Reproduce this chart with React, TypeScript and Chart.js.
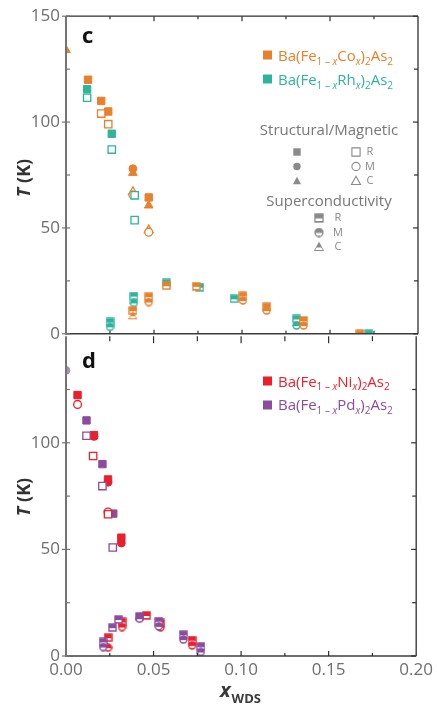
import React, { useEffect, useRef } from "react";
import { Chart, registerables } from "chart.js";

Chart.register(...registerables);

type Pt = [number, number];

// shared axes
const X_MIN = 0;
const X_MAX = 0.2;
const X_STEP = 0.05;
const T_MIN = 0;
const T_MAX = 150;
const T_STEP = 50;

// ---- panel c : Co and Rh substitution (x, T in K) ----
const coStructR: Pt[] = [[0.0125, 120], [0.02, 110], [0.024, 105], [0.047, 64.4]];
const coStructM: Pt[] = [[0.038, 78]];
const coStructC: Pt[] = [[0, 134], [0.038, 76], [0.047, 60.6]];
const coMagR: Pt[] = [[0.02, 104], [0.024, 99]];
const coMagM: Pt[] = [[0.038, 65.6], [0.047, 48]];
const coMagC: Pt[] = [[0.038, 67], [0.047, 49]];
const coScR: Pt[] = [[0.038, 11], [0.047, 17.5], [0.057, 22.7], [0.074, 22.4], [0.1005, 17.9], [0.114, 12.7], [0.135, 6.3], [0.167, 0]];
const coScM: Pt[] = [[0.047, 15], [0.1005, 15.7], [0.114, 11], [0.135, 3.9]];
const coScC: Pt[] = [[0.038, 8.5]];

const rhStructR: Pt[] = [[0.012, 115.5], [0.026, 94.5]];
const rhMagR: Pt[] = [[0.012, 111.5], [0.026, 87], [0.039, 65.4], [0.039, 53.7]];
const rhScR: Pt[] = [[0.025, 5.6], [0.0386, 17.8], [0.057, 24], [0.076, 22], [0.0955, 16.5], [0.131, 7], [0.172, 0]];
const rhScM: Pt[] = [[0.025, 3.3], [0.0386, 14.6], [0.131, 3.9]];

// ---- panel d : Ni and Pd substitution ----
const niStructR: Pt[] = [[0.0066, 122.4], [0.016, 103.6], [0.024, 82.8], [0.0316, 55.5]];
const niStructM: Pt[] = [[0.016, 103], [0.024, 81.5], [0.0316, 53]];
const niMagR: Pt[] = [[0.0155, 93.8], [0.024, 66.5]];
const niMagM: Pt[] = [[0.0066, 118], [0.024, 67.5]];
const niScR: Pt[] = [[0.024, 8.6], [0.032, 16], [0.046, 19], [0.054, 15.5], [0.072, 7.4]];
const niScM: Pt[] = [[0.024, 3.9], [0.032, 13.6], [0.054, 13.5], [0.072, 5]];

const pdParent: Pt[] = [[0, 134]];
const pdStructR: Pt[] = [[0.0117, 110.5], [0.0208, 90], [0.027, 66.8]];
const pdMagR: Pt[] = [[0.0117, 103.3], [0.0208, 79.7], [0.0267, 50.9]];
const pdScR: Pt[] = [[0.0212, 6.6], [0.0265, 13.3], [0.03, 17.1], [0.042, 18.6], [0.053, 16.3], [0.067, 10], [0.077, 4.5]];
const pdScM: Pt[] = [[0.0212, 4.2], [0.042, 17.5], [0.053, 13.9], [0.067, 7.7], [0.077, 1.9]];

const ORANGE = "#e8802c";
const TEAL = "#2db59a";
const RED = "#ec1f2b";
const PURPLE = "#8c4b9e";
const PARENT = "#a88fae";
const KEY_GREY = "#8a8a8a";
const TEXT_GREY = "#6e6e6e";
const FONT = '"Open Sans", "Liberation Sans", sans-serif';

type Shape = "rect" | "circle" | "triangle";
type Kind = "structR" | "structM" | "structC" | "magR" | "magM" | "magC" | "scR" | "scM" | "scC";

function shapePath(g: CanvasRenderingContext2D, shape: Shape, cx: number, cy: number, r: number) {
  g.beginPath();
  if (shape === "rect") g.rect(cx - r, cy - r, 2 * r, 2 * r);
  else if (shape === "circle") g.arc(cx, cy, r, 0, Math.PI * 2);
  else {
    g.moveTo(cx, cy - r * 1.15);
    g.lineTo(cx + r * 1.1, cy + r * 0.85);
    g.lineTo(cx - r * 1.1, cy + r * 0.85);
    g.closePath();
  }
}

// half-filled superconducting marker: solid top, white band in the lower part
function scMarker(shape: Shape, color: string, size = 9): HTMLCanvasElement {
  const c = document.createElement("canvas");
  c.width = size;
  c.height = size;
  const g = c.getContext("2d")!;
  const m = size / 2;
  g.fillStyle = color;
  shapePath(g, shape, m, m, m - 0.3);
  g.fill();
  g.save();
  g.beginPath();
  g.rect(0, size * 0.55, size, size * 0.25);
  g.clip();
  g.fillStyle = "#fff";
  shapePath(g, shape, m, m, m - 1.6);
  g.fill();
  g.restore();
  return c;
}

function series(points: Pt[], kind: Kind, color: string) {
  const base = {
    data: points.map(([x, y]) => ({ x, y })),
    showLine: false,
    clip: 0,
  };
  const shape: Shape = kind.endsWith("R") ? "rect" : kind.endsWith("M") ? "circle" : "triangle";
  if (kind.startsWith("sc")) {
    return { ...base, pointStyle: scMarker(shape, color), pointRadius: 4.5 };
  }
  const filled = kind.startsWith("struct");
  const radius = shape === "rect" ? 5.2 : shape === "circle" ? 3.9 : 5;
  return {
    ...base,
    pointStyle: shape,
    pointRadius: radius,
    pointBackgroundColor: filled ? color : "#fff",
    pointBorderColor: color,
    pointBorderWidth: filled ? 1 : 1.3,
  };
}

type Run = [string, boolean, boolean];
const formula = (dopant: string): Run[] => [
  ["Ba(Fe", false, false],
  ["1 – ", true, false],
  ["x", true, true],
  [dopant, false, false],
  ["x", true, true],
  [")", false, false],
  ["2", true, false],
  ["As", false, false],
  ["2", true, false],
];

function drawRuns(ctx: CanvasRenderingContext2D, x: number, baseline: number, runs: Run[], color: string) {
  ctx.fillStyle = color;
  ctx.textAlign = "left";
  ctx.textBaseline = "alphabetic";
  let cx = x;
  for (const [text, sub, italic] of runs) {
    ctx.font = `${italic ? "italic " : ""}${sub ? 10 : 15}px ${FONT}`;
    ctx.fillText(text, cx, baseline + (sub ? 3.5 : 0));
    cx += ctx.measureText(text).width;
  }
}

function legendEntry(ctx: CanvasRenderingContext2D, y: number, baseline: number, color: string, dopant: string) {
  ctx.fillStyle = color;
  ctx.fillRect(263, y - 4.5, 9, 9);
  drawRuns(ctx, 278, baseline, formula(dopant), color);
}

function keySymbol(ctx: CanvasRenderingContext2D, shape: Shape, filled: boolean, x: number, y: number) {
  ctx.save();
  ctx.fillStyle = filled ? KEY_GREY : "#fff";
  ctx.strokeStyle = KEY_GREY;
  ctx.lineWidth = 1.1;
  shapePath(ctx, shape, x, y, filled ? 3.7 : 4.1);
  ctx.fill();
  if (!filled) ctx.stroke();
  ctx.restore();
}

function line(ctx: CanvasRenderingContext2D, x1: number, y1: number, x2: number, y2: number) {
  ctx.beginPath();
  ctx.moveTo(x1, y1);
  ctx.lineTo(x2, y2);
  ctx.stroke();
}

function framePlugin(panel: "c" | "d") {
  const upper = panel === "c";
  return {
    id: "frame-" + panel,
    afterDraw(chart: any) {
      const { ctx, chartArea: a, scales } = chart;
      const xs = scales.x;
      const ys = scales.y;
      ctx.save();

      // frame lines
      ctx.strokeStyle = "#2e2e2e";
      ctx.lineWidth = 1.3;
      line(ctx, a.right, a.top, a.right, a.bottom);
      if (upper) line(ctx, a.left, a.top, a.right, a.top);
      ctx.strokeStyle = "#3c3c3c";
      ctx.lineWidth = 1.5;
      line(ctx, a.left, a.bottom, a.right, a.bottom);
      ctx.strokeStyle = "#747474";
      ctx.lineWidth = 2;
      line(ctx, a.left, a.top, a.left, a.bottom + 1);

      // T ticks on both sides
      ctx.lineWidth = 1.2;
      for (let v = T_MIN; v <= T_MAX; v += 25) {
        if (!upper && v === T_MAX) continue;
        const py = ys.getPixelForValue(v);
        const major = v % 50 === 0;
        ctx.strokeStyle = "#747474";
        line(ctx, major ? a.left - 4 : a.left, py, a.left + 4, py);
        ctx.strokeStyle = "#2e2e2e";
        line(ctx, a.right - (major ? 5 : 4), py, a.right, py);
      }

      // x ticks
      for (let i = 0; i <= 8; i++) {
        const v = i * 0.025;
        const px = xs.getPixelForValue(v);
        const major = i % 2 === 0;
        ctx.strokeStyle = "#2e2e2e";
        if (i > 0 && i < 8) {
          if (upper) {
            line(ctx, px, a.top, px, a.top + (major ? 5 : 3));
            line(ctx, px, a.bottom, px, a.bottom - (major ? 4 : 3));
          } else {
            line(ctx, px, a.top, px, a.top + (major ? 7 : 5));
            line(ctx, px, a.bottom, px, a.bottom - (major ? 5 : 3));
          }
        }
      }

      // axis title T (K)
      ctx.save();
      ctx.translate(25, upper ? 178 : 177);
      ctx.rotate(-Math.PI / 2);
      ctx.fillStyle = "#333";
      ctx.textBaseline = "middle";
      ctx.font = `italic bold 18px ${FONT}`;
      const wT = ctx.measureText("T").width;
      ctx.font = `bold 18px ${FONT}`;
      const wK = ctx.measureText(" (K)").width;
      const sx = -(wT + wK) / 2;
      ctx.font = `italic bold 18px ${FONT}`;
      ctx.textAlign = "left";
      ctx.fillText("T", sx, 0);
      ctx.font = `bold 18px ${FONT}`;
      ctx.fillText(" (K)", sx + wT, 0);
      ctx.restore();

      // panel letter
      ctx.fillStyle = "#111";
      ctx.font = `bold 22px ${FONT}`;
      ctx.textAlign = "left";
      ctx.textBaseline = "alphabetic";
      ctx.fillText(panel, 82, upper ? 43 : 48);

      if (upper) {
        legendEntry(ctx, 55, 61, ORANGE, "Co");
        legendEntry(ctx, 79, 85, TEAL, "Rh");

        ctx.fillStyle = "#777";
        ctx.font = `15px ${FONT}`;
        ctx.textAlign = "center";
        ctx.textBaseline = "middle";
        ctx.fillText("Structural/Magnetic", 329, 131);
        ctx.fillText("Superconductivity", 329, 202);

        const keyShapes: Shape[] = ["rect", "circle", "triangle"];
        const keyLetters = ["R", "M", "C"];
        const rowY = [152, 166.5, 181];
        const scY = [218, 232.5, 247];
        ctx.font = `11px ${FONT}`;
        keyShapes.forEach((s, i) => {
          keySymbol(ctx, s, true, 297, rowY[i]);
          keySymbol(ctx, s, false, 356, rowY[i]);
          ctx.fillStyle = "#888";
          ctx.textAlign = "center";
          ctx.fillText(keyLetters[i], 370, rowY[i]);
          ctx.drawImage(scMarker(s, KEY_GREY, 10), 314, scY[i] - 5);
          ctx.fillStyle = "#888";
          ctx.fillText(keyLetters[i], 338, scY[i]);
        });
      } else {
        legendEntry(ctx, 61, 66.5, RED, "Ni");
        legendEntry(ctx, 85, 90, PURPLE, "Pd");

        // x axis title
        ctx.fillStyle = "#3a3a3a";
        ctx.textAlign = "left";
        ctx.textBaseline = "alphabetic";
        ctx.font = `italic bold 20px ${FONT}`;
        ctx.fillText("x", 220, 377);
        const wx = ctx.measureText("x").width;
        ctx.font = `bold 13px ${FONT}`;
        ctx.fillText("WDS", 221 + wx, 383);
      }

      ctx.restore();
    },
  };
}

function makeConfig(panel: "c" | "d"): any {
  const upper = panel === "c";
  const datasets = upper
    ? [
        series(coScM, "scM", ORANGE),
        series(coScC, "scC", ORANGE),
        series(coScR, "scR", ORANGE),
        series(rhScM, "scM", TEAL),
        series(rhScR, "scR", TEAL),
        series(rhMagR, "magR", TEAL),
        series(coMagR, "magR", ORANGE),
        series(coMagM, "magM", ORANGE),
        series(coMagC, "magC", ORANGE),
        series(rhStructR, "structR", TEAL),
        series(coStructR, "structR", ORANGE),
        series(coStructM, "structM", ORANGE),
        series(coStructC, "structC", ORANGE),
      ]
    : [
        series(pdScM, "scM", PURPLE),
        series(pdScR, "scR", PURPLE),
        series(niScM, "scM", RED),
        series(niScR, "scR", RED),
        series(pdMagR, "magR", PURPLE),
        series(niMagR, "magR", RED),
        series(niMagM, "magM", RED),
        series(pdParent, "structM", PARENT),
        series(pdStructR, "structR", PURPLE),
        series(niStructR, "structR", RED),
        series(niStructM, "structM", RED),
      ];

  return {
    type: "scatter",
    data: { datasets },
    options: {
      animation: false,
      responsive: false,
      events: [],
      layout: {
        autoPadding: false,
        padding: { left: 0, right: 19, top: 16, bottom: upper ? 15 : 0 },
      },
      plugins: { legend: { display: false }, tooltip: { enabled: false } },
      scales: {
        x: {
          type: "linear",
          min: X_MIN,
          max: X_MAX,
          display: !upper,
          grid: { display: false, drawTicks: false },
          border: { display: false },
          ticks: {
            stepSize: X_STEP,
            padding: 4,
            color: TEXT_GREY,
            font: { family: FONT, size: 17 },
            maxRotation: 0,
            autoSkip: false,
            callback: (v: any) => Number(v).toFixed(2),
          },
          afterFit: (s: any) => {
            s.height = upper ? 0 : 50;
          },
        },
        y: {
          type: "linear",
          min: T_MIN,
          max: T_MAX,
          grid: { display: false, drawTicks: false },
          border: { display: false },
          ticks: {
            stepSize: T_STEP,
            padding: 6,
            color: TEXT_GREY,
            font: { family: FONT, size: 17 },
            callback: (v: any) => (!upper && v === T_MAX ? "" : String(v)),
          },
          afterFit: (s: any) => {
            s.width = 66;
          },
        },
      },
    },
    plugins: [framePlugin(panel)],
  };
}

export default function App() {
  const topRef = useRef<HTMLCanvasElement>(null);
  const bottomRef = useRef<HTMLCanvasElement>(null);

  useEffect(() => {
    const charts = [new Chart(topRef.current!, makeConfig("c")), new Chart(bottomRef.current!, makeConfig("d"))];
    return () => charts.forEach((c) => c.destroy());
  }, []);

  return (
    <div style={{ position: "fixed", left: 0, top: 0, width: 437, height: 706, background: "#fff", overflow: "hidden" }}>
      <canvas ref={topRef} width={437} height={350} style={{ position: "absolute", left: 0, top: 0, width: 437, height: 350 }} />
      <canvas ref={bottomRef} width={437} height={386} style={{ position: "absolute", left: 0, top: 320, width: 437, height: 386 }} />
    </div>
  );
}
